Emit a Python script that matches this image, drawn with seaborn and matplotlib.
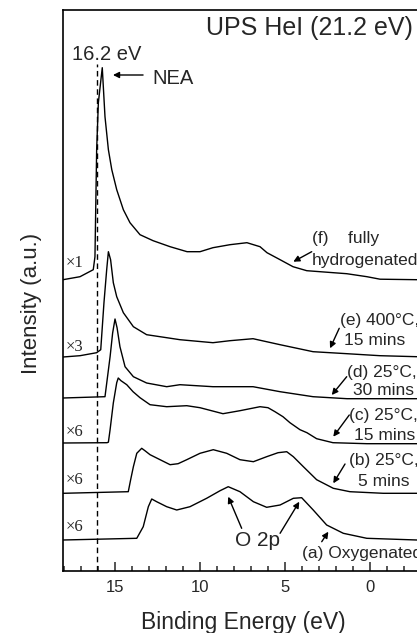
import matplotlib
matplotlib.use("Agg")
import matplotlib.pyplot as plt
from matplotlib.ticker import MultipleLocator
import numpy as np
import pandas as pd
import seaborn as sns

# ---- data (binding energy in eV, intensity in arbitrary units incl. offsets) ----
energy_f = [18.06, 17.06, 16.28, 16.18, 16.08, 15.98, 15.75, 15.59, 15.39, 15.19, 14.90, 14.51, 14.12,
            13.53, 12.76, 11.76, 10.76, 10.0, 9.24, 8.24, 7.24, 6.47, 6.06, 5.29, 4.53, 3.72, 2.94,
            1.37, 0.18, -0.59, -2.76, -3.5]
inten_f = [291, 294, 301, 314, 421, 468, 503, 454, 421, 401, 381, 361, 348,
           336, 330, 324, 319, 319, 323, 326, 328, 324, 318, 311, 304, 300, 299,
           297, 294, 291.5, 291, 291]

energy_e = [18.06, 17.06, 16.08, 15.84, 15.65, 15.49, 15.39, 15.26, 15.10, 14.90, 14.51, 13.92, 13.14,
            11.96, 11.18, 9.24, 8.24, 6.88, 5.29, 3.35, 1.35, -0.59, -2.76, -3.5]
inten_e = [213.7, 215, 218, 221, 268, 301, 319, 311, 288, 274, 258, 244, 236,
           233, 231, 228, 230, 232, 226, 219, 217, 215, 214, 214]

energy_d = [18.06, 15.59, 15.29, 15.14, 15.0, 14.88, 14.71, 14.41, 13.92, 13.14, 11.96, 11.18, 9.24,
            6.88, 5.29, 3.35, 1.35, -2.76, -3.5]
inten_d = [172.7, 174, 214, 237.7, 251.7, 243, 224, 204, 194, 187.7, 184, 186, 184,
           184, 179, 174, 172, 172, 172]

energy_c = [18.06, 15.47, 15.39, 15.29, 15.10, 14.90, 14.81, 14.65, 14.31, 13.94, 13.53, 12.94, 11.96,
            10.78, 10.0, 8.65, 7.65, 6.47, 6.0, 5.59, 5.12, 4.71, 4.12, 3.71, 3.14, 2.18, 0.18,
            -2.76, -3.5]
inten_c = [127.7, 128, 128.5, 141, 167.7, 188, 192.7, 190, 186, 179, 173, 166, 164,
           165, 163, 157, 160, 164, 163, 159, 154, 148, 141, 138, 132, 128, 127,
           127, 127]

energy_b = [18.06, 14.22, 14.08, 13.92, 13.72, 13.43, 13.24, 12.94, 12.35, 11.76, 11.29, 10.78, 10.0,
            9.22, 8.43, 7.65, 6.86, 6.08, 5.41, 4.90, 4.51, 3.92, 3.14, 2.16, 1.18, -0.78, -2.76, -3.5]
inten_b = [77.4, 79, 91, 104, 117.4, 122.4, 120, 116, 111, 106, 107, 111, 117.4,
           121, 117.4, 111, 109, 114, 118, 119, 114, 104, 91, 82.4, 79, 77.4, 77.4, 77.4]

energy_a = [18.06, 13.72, 13.34, 13.04, 12.84, 12.55, 11.96, 11.37, 10.59, 9.61, 8.82, 8.34, 7.65,
            6.86, 6.08, 5.29, 4.51, 4.02, 3.34, 2.55, 1.57, 0.19, -2.76, -3.5]
inten_a = [30.7, 32.4, 44, 64, 71.7, 69, 64, 60.7, 64, 72.4, 80, 84, 79,
           69, 63.4, 65.7, 72.4, 73, 60.7, 45.7, 37.4, 32.4, 30.7, 30.7]

spectra = ["f", "e", "d", "c", "b", "a"]
scale_labels = ["×1", "×3", "×6", "×6", "×6"]

frames = []
for name, en, it in [("f", energy_f, inten_f), ("e", energy_e, inten_e), ("d", energy_d, inten_d),
                     ("c", energy_c, inten_c), ("b", energy_b, inten_b), ("a", energy_a, inten_a)]:
    frames.append(pd.DataFrame({"energy": en, "intensity": it, "spectrum": name}))
df = pd.concat(frames, ignore_index=True)

# ---- style ----
sns.set_style("ticks")
plt.rcParams["font.family"] = ["Liberation Sans", "DejaVu Sans"]

W, H = 417, 633
fig = plt.figure(figsize=(W / 100, H / 100), dpi=100)
ax = fig.add_axes([63 / W, (H - 570.7) / H, (429.5 - 63) / W, 560.7 / H])

sns.lineplot(data=df, x="energy", y="intensity", hue="spectrum", hue_order=spectra,
             palette=["black"] * 6, estimator=None, sort=False, legend=False,
             linewidth=1.0, ax=ax)

ax.set_xlim(18.06, -3.5)
ax.set_ylim(0, 560.7)

# dashed reference line
ax.vlines(16.05, 0, 507, colors="black", linestyles=(0, (4, 2.6)), linewidth=1.0)

# axes styling
for side in ["left", "top", "bottom", "right"]:
    ax.spines[side].set_linewidth(1.2)
    ax.spines[side].set_color("black")
ax.set_yticks([])
ax.xaxis.set_major_locator(MultipleLocator(5))
ax.xaxis.set_minor_locator(MultipleLocator(1))
ax.tick_params(axis="x", which="major", direction="in", length=6.5, width=1.1,
               labelsize=12, pad=7, top=False, bottom=True)
ax.tick_params(axis="x", which="minor", direction="in", length=3.5, width=1.1,
               top=False, bottom=True)
ax.set_xlabel("Binding Energy (eV)", fontsize=16.5)
ax.xaxis.set_label_coords(0.491, -0.0715)
ax.set_ylabel("Intensity (a.u.)", fontsize=16)
ax.yaxis.set_label_coords(-0.0573, 0.4775)

# texts
ax.text(-2.53, 542.7, "UPS HeI (21.2 eV)", ha="right", va="center", fontsize=18)
ax.text(15.47, 515.7, "16.2 eV", ha="center", va="center", fontsize=14.5)
ax.text(12.82, 491.7, "NEA", ha="left", va="center", fontsize=14.5)

arrow = dict(arrowstyle="-|>", color="black", lw=1.0, mutation_scale=9, shrinkA=0, shrinkB=0)
ax.annotate("", xy=(15.12, 495.7), xytext=(13.35, 495.7), arrowprops=arrow)

lab_fs = 12.5
ax.text(3.43, 332.7, "(f)    fully", ha="left", va="center", fontsize=lab_fs)
ax.text(3.43, 310.7, "hydrogenated", ha="left", va="center", fontsize=lab_fs)
ax.annotate("", xy=(4.51, 309), xytext=(3.43, 319), arrowprops=arrow)

ax.text(1.76, 250, "(e) 400°C,", ha="left", va="center", fontsize=lab_fs)
ax.text(1.51, 230, "15 mins", ha="left", va="center", fontsize=lab_fs)
ax.annotate("", xy=(2.35, 222.4), xytext=(1.81, 242.4), arrowprops=arrow)

ax.text(1.34, 198, "(d) 25°C,", ha="left", va="center", fontsize=lab_fs)
ax.text(0.98, 180, "30 mins", ha="left", va="center", fontsize=lab_fs)
ax.annotate("", xy=(2.25, 175.7), xytext=(1.37, 194), arrowprops=arrow)

ax.text(1.24, 155.7, "(c) 25°C,", ha="left", va="center", fontsize=lab_fs)
ax.text(0.92, 135.7, "15 mins", ha="left", va="center", fontsize=lab_fs)
ax.annotate("", xy=(2.16, 134), xytext=(1.22, 155.7), arrowprops=arrow)

ax.text(1.24, 110, "(b) 25°C,", ha="left", va="center", fontsize=lab_fs)
ax.text(0.69, 89, "5 mins", ha="left", va="center", fontsize=lab_fs)
ax.annotate("", xy=(2.16, 87.4), xytext=(1.47, 106.7), arrowprops=arrow)

ax.text(4.02, 17.4, "(a) Oxygenated", ha="left", va="center", fontsize=lab_fs)
ax.annotate("", xy=(2.45, 39), xytext=(2.84, 29), arrowprops=arrow)

ax.text(6.62, 29.7, "O 2p", ha="center", va="center", fontsize=15)
ax.annotate("", xy=(8.34, 74), xytext=(7.55, 42.4), arrowprops=arrow)
ax.annotate("", xy=(4.16, 69), xytext=(5.29, 37.4), arrowprops=arrow)

for lab, yv in zip(scale_labels, [307.4, 224, 139, 90.7, 44]):
    ax.text(17.88, yv, lab, ha="left", va="center", fontsize=12,
            family=["Liberation Serif", "DejaVu Serif"])

fig.savefig("out.png", dpi=100)
